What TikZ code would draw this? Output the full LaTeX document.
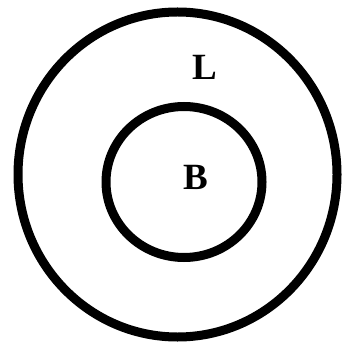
\documentclass[tikz,border=0pt]{standalone}
\usepackage{fontspec}
\setmainfont{Liberation Serif}
\begin{document}
\begin{tikzpicture}[x=1pt,y=-1pt, every node/.style={font=\bfseries\fontsize{37}{37}\selectfont}]
  \useasboundingbox (0,0) rectangle (342,344);
  \draw[line width=9pt] (177.5,174.5) circle [x radius=159.5, y radius=162.5];
  \draw[line width=9pt] (184,182) circle [x radius=78, y radius=75.5];
  \node (lett-l) at (205,67) {L};
  \node (lett-b) at (196,177) {B};
\end{tikzpicture}
\end{document}
